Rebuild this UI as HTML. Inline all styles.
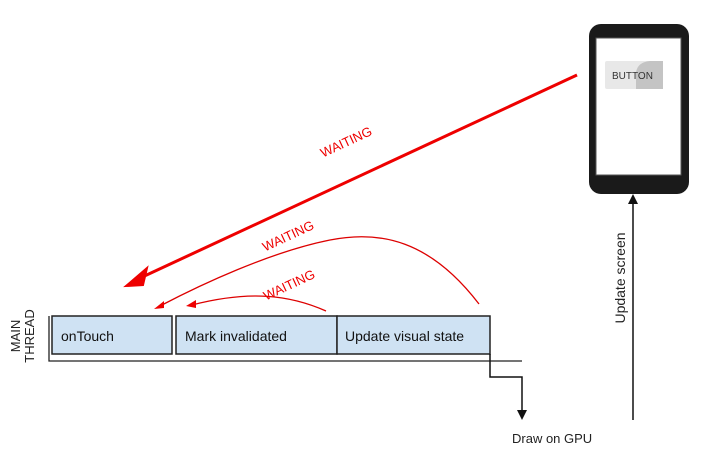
<!DOCTYPE html>
<html><head><style>
body{margin:0;background:#fff;width:724px;height:458px;overflow:hidden;font-family:"Liberation Sans",sans-serif;}
</style></head><body>
<svg width="724" height="458" viewBox="0 0 724 458" xmlns="http://www.w3.org/2000/svg" font-family="Liberation Sans, sans-serif">
<!-- boxes -->
<rect x="52" y="316" width="120" height="38" fill="#cfe2f3" stroke="#222" stroke-width="1.5"/>
<rect x="176" y="316" width="161" height="38" fill="#cfe2f3" stroke="#222" stroke-width="1.5"/>
<rect x="337" y="316" width="153" height="38" fill="#cfe2f3" stroke="#222" stroke-width="1.5"/>
<text x="61" y="341" font-size="14" fill="#111">onTouch</text>
<text x="185" y="341" font-size="14" fill="#111">Mark invalidated</text>
<text x="345" y="341" font-size="14" fill="#111">Update visual state</text>
<path d="M49 316 V361 H522" fill="none" stroke="#222" stroke-width="1.3"/>
<path d="M490 354 V377 H522 V412" fill="none" stroke="#111" stroke-width="1.5"/>
<polygon points="517,410 527,410 522,420" fill="#111"/>
<text x="512" y="443" font-size="13" fill="#222">Draw on GPU</text>
<text transform="translate(20,336) rotate(-90)" text-anchor="middle" font-size="13" fill="#222"><tspan x="0" y="0">MAIN</tspan><tspan x="0" y="14">THREAD</tspan></text>
<!-- update screen -->
<line x1="633" y1="420" x2="633" y2="202" stroke="#111" stroke-width="1.5"/>
<polygon points="628,204 638,204 633,194" fill="#111"/>
<text transform="translate(625,278) rotate(-90)" text-anchor="middle" font-size="14" fill="#222">Update screen</text>
<!-- phone -->
<rect x="589" y="24" width="100" height="170" rx="12" fill="#1a1a1a"/>
<rect x="596" y="38" width="85" height="137" fill="#fff" stroke="#555" stroke-width="1"/>
<rect x="605" y="61" width="58" height="28" rx="2" fill="#e8e8e8"/>
<path d="M636 89 V72 Q638 62 650 61 H663 V89 Z" fill="#c4c4c4"/>
<text x="612" y="79" font-size="10" fill="#333">BUTTON</text>
<!-- red arrows -->
<line x1="577" y1="75" x2="138" y2="279" stroke="#e00" stroke-width="3"/>
<polygon points="126,286 147,268 143,285" fill="#e00" stroke="#e00" stroke-width="2"/>
<path d="M479 304 C430 240 380 230 330 240 C270 252 200 285 160 306" fill="none" stroke="#d00" stroke-width="1.3"/>
<polygon points="154,309 164,301 164,308" fill="#e00"/>
<path d="M326 311 C290 295 250 290 192 305" fill="none" stroke="#d00" stroke-width="1.3"/>
<polygon points="186,306 196,300 196,308" fill="#e00"/>
<g fill="#e00" font-size="13" text-anchor="middle">
<text transform="translate(348,146) rotate(-25)">WAITING</text>
<text transform="translate(290,240) rotate(-25)">WAITING</text>
<text transform="translate(291,289) rotate(-25)">WAITING</text>
</g>
</svg>
</body></html>
